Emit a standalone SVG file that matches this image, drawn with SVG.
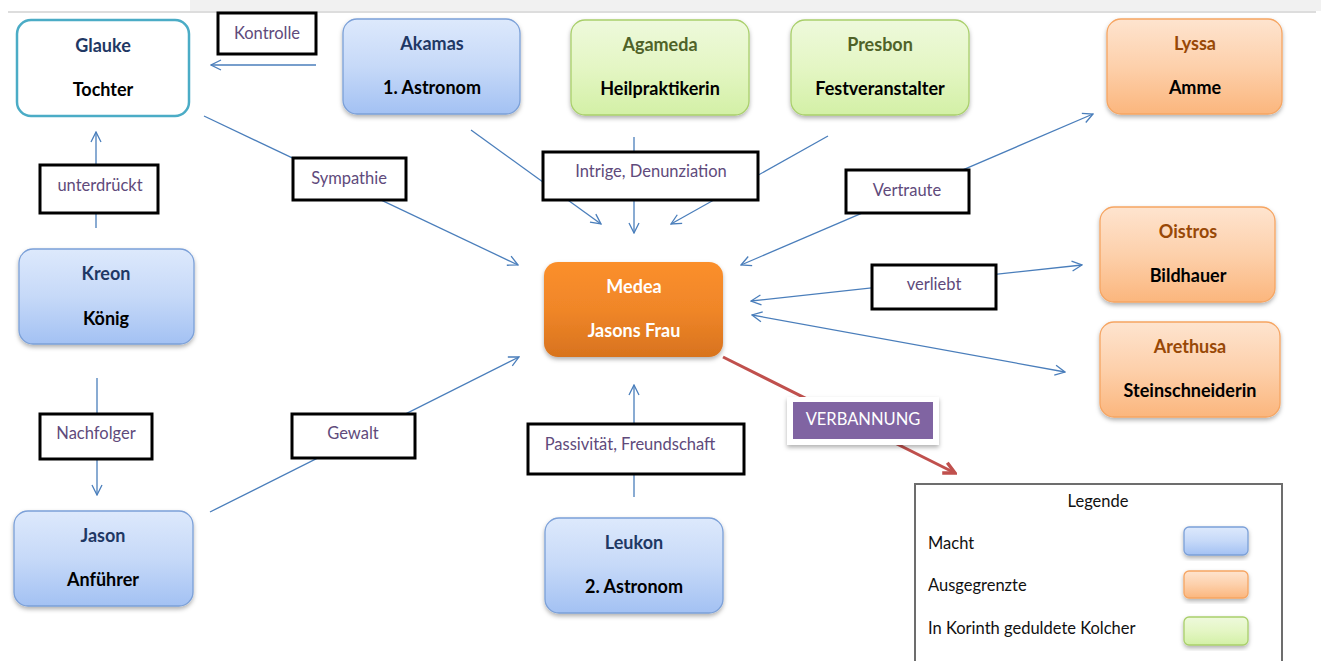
<svg xmlns="http://www.w3.org/2000/svg" width="1321" height="661" viewBox="0 0 1321 661">
<defs>
<style>
.t{font-family:Lato,"Liberation Sans",sans-serif;font-weight:bold;font-size:18px;text-anchor:middle;dominant-baseline:central}
.sub{fill:#000}
.tb{fill:#1f3864}
.tg{fill:#4f6228}
.to{fill:#984806}
.tw{fill:#fff}
.lb{fill:#fff;stroke:#000;stroke-width:3}
.lt{font-family:Lato,"Liberation Sans",sans-serif;font-size:16.5px;fill:#604a7b;text-anchor:middle;dominant-baseline:central}
.c{stroke:#4a7ebb;stroke-width:1.3;fill:none}
.blue{fill:url(#gBlue);stroke:#7ba0d8;stroke-width:1.3;filter:url(#sh)}
.green{fill:url(#gGreen);stroke:#a9cf6b;stroke-width:1.3;filter:url(#sh)}
.orange{fill:url(#gOrange);stroke:#f6a562;stroke-width:1.3;filter:url(#sh)}
.leg{font-family:Lato,"Liberation Sans",sans-serif;font-size:16.5px;fill:#111}
</style>
<linearGradient id="gBlue" x1="0" y1="0" x2="0" y2="1"><stop offset="0" stop-color="#dde9fc"/><stop offset="0.5" stop-color="#c6d9f8"/><stop offset="1" stop-color="#a3c1f3"/></linearGradient>
<linearGradient id="gGreen" x1="0" y1="0" x2="0" y2="1"><stop offset="0" stop-color="#eef9dc"/><stop offset="0.5" stop-color="#e4f6c4"/><stop offset="1" stop-color="#d3f0a6"/></linearGradient>
<linearGradient id="gOrange" x1="0" y1="0" x2="0" y2="1"><stop offset="0" stop-color="#fee4cf"/><stop offset="0.5" stop-color="#fdd0ab"/><stop offset="1" stop-color="#fbb67d"/></linearGradient>
<linearGradient id="gMedea" x1="0" y1="0" x2="0" y2="1"><stop offset="0" stop-color="#fb8f2c"/><stop offset="0.5" stop-color="#f08628"/><stop offset="1" stop-color="#d8731e"/></linearGradient>
<filter id="sh" x="-10%" y="-10%" width="120%" height="130%"><feDropShadow dx="0" dy="2.5" stdDeviation="2" flood-color="#000" flood-opacity="0.3"/></filter>
<marker id="ar" viewBox="0 0 12 12" refX="11" refY="6" markerWidth="12" markerHeight="12" markerUnits="userSpaceOnUse" orient="auto-start-reverse"><path d="M1,1 L11,6 L1,11" fill="none" stroke="#4a7ebb" stroke-width="1.3"/></marker>
<marker id="arR" viewBox="0 0 14 14" refX="12" refY="7" markerWidth="16" markerHeight="16" markerUnits="userSpaceOnUse" orient="auto"><path d="M2,2 L12,7 L2,12" fill="none" stroke="#c0504d" stroke-width="3"/></marker>
</defs>
<rect x="0" y="0" width="1321" height="661" fill="#fff"/>
<rect x="190" y="0" width="1131" height="11" fill="#f1f1f1"/>
<line x1="8" y1="12" x2="1316" y2="12" stroke="#d2d2d2" stroke-width="1.5"/>

<g id="connectors">
<line class="c" x1="316" y1="65" x2="211" y2="65" marker-end="url(#ar)"/>
<line class="c" x1="96" y1="228" x2="96" y2="132" marker-end="url(#ar)"/>
<line class="c" x1="204" y1="116" x2="518" y2="265" marker-end="url(#ar)"/>
<line class="c" x1="471" y1="130" x2="601" y2="224" marker-end="url(#ar)"/>
<line class="c" x1="634" y1="137" x2="634" y2="233" marker-end="url(#ar)"/>
<line class="c" x1="828" y1="136" x2="671" y2="224" marker-end="url(#ar)"/>
<line class="c" x1="741" y1="265" x2="1093" y2="114" marker-start="url(#ar)" marker-end="url(#ar)"/>
<line class="c" x1="751" y1="301" x2="1082" y2="265" marker-start="url(#ar)" marker-end="url(#ar)"/>
<line class="c" x1="752" y1="315" x2="1065" y2="372" marker-start="url(#ar)" marker-end="url(#ar)"/>
<line class="c" x1="97" y1="378" x2="97" y2="495" marker-end="url(#ar)"/>
<line class="c" x1="210" y1="512" x2="519" y2="357" marker-end="url(#ar)"/>
<line class="c" x1="634" y1="497" x2="634" y2="385" marker-end="url(#ar)"/>
<line x1="723" y1="357" x2="955" y2="473" stroke="#c0504d" stroke-width="3" marker-end="url(#arR)"/>
</g>

<g id="labels">
<g id="l-kontrolle"><rect class="lb" x="218" y="13" width="98" height="41"/><text class="lt" x="267" y="33">Kontrolle</text></g>
<g id="l-unterdrueckt"><rect class="lb" x="40" y="165" width="118" height="48"/><text class="lt" x="100" y="185">unterdrückt</text></g>
<g id="l-sympathie"><rect class="lb" x="293" y="158" width="113" height="42"/><text class="lt" x="349" y="178">Sympathie</text></g>
<g id="l-intrige"><rect class="lb" x="543" y="152" width="215" height="48"/><text class="lt" x="651" y="171">Intrige, Denunziation</text></g>
<g id="l-vertraute"><rect class="lb" x="846" y="170" width="123" height="43"/><text class="lt" x="907" y="190">Vertraute</text></g>
<g id="l-verliebt"><rect class="lb" x="872" y="265" width="124" height="44"/><text class="lt" x="934" y="284">verliebt</text></g>
<g id="l-nachfolger"><rect class="lb" x="40" y="414" width="112" height="45"/><text class="lt" x="96" y="433">Nachfolger</text></g>
<g id="l-gewalt"><rect class="lb" x="292" y="414" width="123" height="44"/><text class="lt" x="353" y="433">Gewalt</text></g>
<g id="l-passiv"><rect class="lb" x="528" y="424" width="216" height="50"/><text class="lt" x="630" y="444">Passivität, Freundschaft</text></g>
<g id="l-verbannung"><rect x="787" y="397" width="152" height="48" fill="#fff" filter="url(#sh)"/><rect x="793" y="402" width="140" height="37" fill="#8064a2"/><text class="lt" x="863" y="419" style="fill:#fff">VERBANNUNG</text></g>
</g>

<g id="glauke"><rect x="17" y="20" width="172" height="96" rx="14" fill="#fff" stroke="#4bacc6" stroke-width="2.5"/><text class="t tb" x="103" y="45">Glauke</text><text class="t sub" x="103" y="89">Tochter</text></g>
<g id="akamas"><rect class="blue" x="343" y="19" width="177" height="95" rx="14"/><text class="t tb" x="432" y="43">Akamas</text><text class="t sub" x="432" y="87">1. Astronom</text></g>
<g id="agameda"><rect class="green" x="571" y="20" width="178" height="95" rx="14"/><text class="t tg" x="660" y="44">Agameda</text><text class="t sub" x="660" y="88">Heilpraktikerin</text></g>
<g id="presbon"><rect class="green" x="791" y="20" width="178" height="95" rx="14"/><text class="t tg" x="880" y="44">Presbon</text><text class="t sub" x="880" y="88">Festveranstalter</text></g>
<g id="lyssa"><rect class="orange" x="1107" y="19" width="175" height="95" rx="14"/><text class="t to" x="1195" y="43">Lyssa</text><text class="t sub" x="1195" y="87">Amme</text></g>
<g id="oistros"><rect class="orange" x="1100" y="207" width="175" height="95" rx="14"/><text class="t to" x="1188" y="231">Oistros</text><text class="t sub" x="1188" y="275">Bildhauer</text></g>
<g id="arethusa"><rect class="orange" x="1100" y="322" width="180" height="95" rx="14"/><text class="t to" x="1190" y="346">Arethusa</text><text class="t sub" x="1190" y="390">Steinschneiderin</text></g>
<g id="kreon"><rect class="blue" x="19" y="249" width="175" height="95" rx="14"/><text class="t tb" x="106" y="273">Kreon</text><text class="t sub" x="106" y="318">König</text></g>
<g id="jason"><rect class="blue" x="14" y="511" width="179" height="95" rx="14"/><text class="t tb" x="103" y="535">Jason</text><text class="t sub" x="103" y="579">Anführer</text></g>
<g id="medea"><rect x="544" y="262" width="179" height="95" rx="14" fill="url(#gMedea)" filter="url(#sh)"/><text class="t tw" x="634" y="286">Medea</text><text class="t tw" x="634" y="330">Jasons Frau</text></g>
<g id="leukon"><rect class="blue" x="545" y="518" width="178" height="95" rx="14"/><text class="t tb" x="634" y="542">Leukon</text><text class="t sub" x="634" y="586">2. Astronom</text></g>

<g id="legend">
<rect x="915" y="484" width="367" height="200" fill="#fff" stroke="#6d6d6d" stroke-width="2"/>
<text class="leg" x="1098" y="501" text-anchor="middle" dominant-baseline="central">Legende</text>
<text class="leg" x="928" y="543" dominant-baseline="central">Macht</text>
<text class="leg" x="928" y="585" dominant-baseline="central">Ausgegrenzte</text>
<text class="leg" x="928" y="628" dominant-baseline="central">In Korinth geduldete Kolcher</text>
<rect class="blue" x="1184" y="527" width="64" height="28" rx="5"/>
<rect class="orange" x="1184" y="571" width="64" height="27" rx="5"/>
<rect class="green" x="1184" y="617" width="64" height="28" rx="5"/>
</g>
</svg>
